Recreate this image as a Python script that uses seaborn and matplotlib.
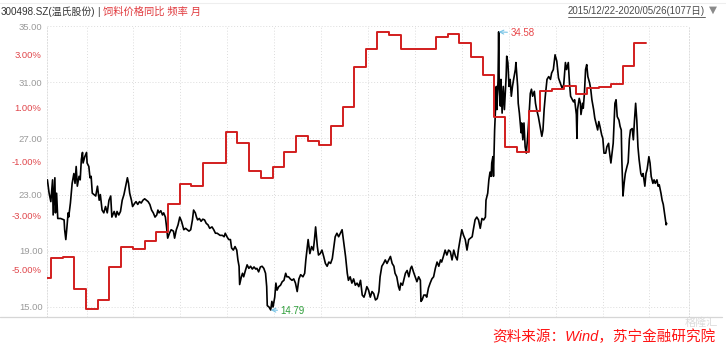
import numpy as np
import pandas as pd
import matplotlib
matplotlib.use("Agg")
import matplotlib.pyplot as plt
import seaborn as sns
from matplotlib.lines import Line2D

# ---------------- data ----------------
stock_name = "300498.SZ(温氏股份)"
series_name = "饲料价格同比 频率 月"
date_range_label = "2015/12/22-2020/05/26(1077日)"
start_date = "2015-12-22"
end_date = "2020-05-26"
n_trading_days = 1077
source_label = "资料来源：Wind，苏宁金融研究院"

# stock close (right axis), x = trading-day number
price_day = [
    0, 3, 6, 9, 10, 13, 14, 16, 18, 23, 29, 30, 32, 34, 36, 37, 40, 43, 46, 48,
    50, 52, 55, 57, 59, 61, 62, 65, 68, 69, 72, 74, 76, 78, 81, 84, 87, 90, 92, 95,
    98, 101, 104, 107, 110, 112, 116, 119, 121, 124, 127, 130, 133, 136, 139, 141, 143, 146, 148, 152,
    154, 157, 160, 163, 166, 169, 172, 175, 178, 181, 184, 187, 190, 192, 194, 197, 200, 202, 205, 207,
    209, 212, 215, 219, 221,
    224, 227, 230, 233, 237, 240, 243, 246, 249, 252, 254, 257, 259, 261, 264, 267, 270, 273, 276, 279,
    282, 286, 289, 292, 295, 300, 304, 307, 309, 312, 315, 318, 320, 323, 326, 329, 331, 333, 334, 337,
    339, 341, 344, 347, 350, 353, 356, 359, 362, 364, 367, 370, 373, 376, 379, 381, 382, 385, 388, 390,
    392, 395, 397, 399, 402, 405, 408, 411, 414, 416, 419, 422, 425, 428, 431, 434, 437, 440,
    444, 447, 449, 451, 453, 456, 459, 462, 464, 466, 469, 471, 474, 477, 480, 483, 486, 489, 492, 495,
    497, 500, 503, 506, 509, 512, 515, 518, 521, 523, 526, 529, 532, 535, 538, 541, 544, 547, 550, 552,
    555, 558, 561, 564, 567, 570, 573, 576, 578, 581, 584, 587, 590, 593, 596, 599, 602, 604, 607, 610,
    612, 614, 617, 619, 622, 625, 628, 631, 633, 636, 639, 642, 645, 648, 649, 651, 654, 657, 659, 662,
    665, 668,
    671, 674, 677, 680, 683, 685, 688, 691, 694, 697, 700, 703, 706, 709, 712, 714, 717, 720, 723, 726,
    729, 732, 735, 738, 740, 743, 746, 749, 752, 755, 758, 761, 762, 765, 767, 769, 771, 772, 774, 775,
    777, 778, 780, 781, 783, 784, 785, 787, 788, 790, 792, 794, 797, 798, 800, 802, 804, 806, 808, 810,
    813, 814, 817, 818, 820, 823, 824, 826, 828, 830, 832, 834, 836, 839, 841, 843, 846, 848, 850, 853,
    856, 859, 861, 863, 865, 868, 871, 874, 876, 879, 882, 885, 888, 891, 894, 897,
    900, 902, 905, 907, 909, 912, 914, 916, 919, 920, 921, 924, 926, 927, 930, 931, 933, 935, 937, 939,
    942, 944, 946, 949, 951, 953, 956, 958, 960, 963, 965, 967, 970, 972, 975, 976, 979, 981, 983, 986,
    988, 990, 993, 995, 997, 998, 1000, 1002, 1004, 1007, 1009, 1011, 1013, 1016, 1018, 1020, 1022, 1024, 1026, 1028,
    1031, 1033, 1035, 1038, 1040, 1042, 1045, 1047, 1049, 1052, 1054, 1056, 1059, 1061, 1063, 1066, 1068, 1070, 1072, 1075,
    1076,
]
price_close = [
    24.05, 23.1, 22.5, 24.05, 21.55, 24.2, 21.7, 23.1, 21.3, 21.3, 21.2, 20.5, 19.8, 20.7, 21.7, 21.4, 22.4, 23.8, 24.5, 23.8,
    25.0, 23.6, 24.3, 24.05, 25.5, 26.0, 25.25, 25.7, 26.0, 25.25, 25.0, 24.2, 24.3, 23.1, 23.0, 22.9, 23.6, 22.6, 23.0, 21.9,
    21.7, 22.15, 21.7, 22.6, 22.9, 21.4, 21.8, 21.4, 21.8, 21.55, 21.8, 22.6, 23.0, 23.6, 24.2, 23.8, 23.1, 22.6, 22.15, 22.4,
    22.5, 22.3, 22.5, 22.4, 22.6, 22.7, 22.6, 22.5, 22.3, 21.9, 21.7, 21.4, 21.55, 21.9, 21.7, 21.85, 21.55, 21.7, 21.4, 20.7,
    19.9, 20.25, 20.5, 20.4, 19.9,
    20.5, 20.85, 21.4, 21.1, 20.5, 20.6, 20.5, 20.4, 20.5, 21.2, 21.9, 21.7, 21.4, 21.2, 21.3, 21.1, 21.25, 21.2, 20.95, 20.85,
    20.6, 20.7, 20.5, 20.25, 20.25, 20.1, 20.1, 20.0, 20.25, 20.0, 19.8, 19.8, 19.2, 19.05, 19.3, 19.05, 18.35, 17.9, 16.6, 17.15,
    17.4, 17.15, 17.6, 18.0, 17.75, 17.9, 17.7, 17.85, 17.7, 17.75, 17.5, 17.85, 17.9, 17.75, 17.4, 16.45, 15.1, 15.0, 14.79, 15.4,
    15.0, 15.7, 16.7, 16.2, 16.45, 16.55, 16.8, 16.9, 17.4, 17.15, 17.15, 17.0, 16.9, 17.0, 16.7, 16.1, 17.0, 17.3,
    17.15, 17.4, 18.35, 19.05, 19.8, 18.8, 19.3, 19.05, 19.8, 20.7, 19.3, 18.7, 18.8, 19.05, 18.6, 18.1, 17.9, 18.2, 18.1, 18.45,
    19.05, 20.0, 20.25, 20.0, 20.25, 20.5, 19.55, 18.6, 17.4, 16.9, 17.15, 16.7, 17.0, 16.55, 16.7, 16.45, 16.9, 15.85, 15.7, 15.95,
    16.45, 16.2, 15.7, 16.1, 15.95, 15.5, 15.6, 16.1, 17.15, 17.9, 18.1, 18.35, 18.1, 18.35, 18.6, 18.1, 17.9, 17.4, 17.15, 16.45,
    16.2, 16.7, 16.55, 16.9, 17.4, 17.6, 17.15, 17.75, 17.9, 17.5, 17.15, 16.8, 17.15, 16.9, 15.4, 15.5, 15.85, 15.85, 15.7, 16.35,
    16.7, 17.0,
    17.15, 17.75, 18.2, 17.9, 18.35, 18.2, 18.6, 19.05, 18.7, 19.05, 18.95, 18.35, 19.05, 18.6, 18.35, 19.05, 19.8, 20.5, 20.1, 19.8,
    19.05, 19.8, 19.9, 20.0, 20.5, 21.2, 21.4, 21.2, 20.6, 21.3, 21.2, 21.4, 22.6, 23.1, 24.05, 24.6, 24.3, 25.25, 25.7, 24.3,
    27.6, 28.55, 30.7, 29.05, 31.2, 34.58, 30.7, 29.3, 31.2, 28.8, 30.7, 29.05, 31.4, 32.85, 32.4, 30.7, 31.2, 30.0, 30.7, 31.2,
    31.9, 32.4, 30.7, 29.5, 28.8, 27.4, 28.1, 26.9, 28.1, 26.4, 25.95, 26.9, 28.1, 30.2, 30.5, 30.0, 30.35, 29.5, 29.05, 28.55,
    27.85, 27.15, 27.6, 29.05, 30.0, 31.2, 31.4, 31.2, 31.65, 31.9, 32.95, 32.5, 31.3, 30.95, 30.6, 30.8,
    32.4, 31.9, 32.4, 30.95, 30.0, 29.75, 29.6, 29.75, 28.7, 27.0, 29.05, 29.85, 29.5, 28.7, 29.5, 29.15, 30.2, 31.9, 32.25, 31.4,
    30.95, 30.5, 29.75, 29.05, 28.45, 28.1, 27.6, 28.2, 27.85, 27.25, 27.0, 25.95, 25.95, 26.4, 26.65, 26.2, 25.25, 25.95, 26.65, 29.5,
    29.75, 28.55, 28.3, 27.85, 27.6, 25.5, 22.9, 23.8, 24.5, 25.0, 25.3, 26.9, 27.6, 27.7, 26.9, 28.3, 29.5, 28.3, 26.4, 25.5,
    24.5, 24.3, 24.5, 23.6, 24.5, 24.8, 25.7, 25.25, 24.3, 23.8, 24.05, 23.8, 24.05, 23.6, 23.7, 23.1, 22.6, 22.3, 21.7, 20.85,
    20.95,
]

# feed price YoY (left axis, %), monthly
feed_months = pd.period_range("2015-12", "2020-03", freq="M").strftime("%Y-%m").tolist()
feed_yoy = [
    -5.33,
    -4.59, -4.55, -5.74, -6.49, -6.15, -4.93, -4.18, -4.26, -3.96, -3.62, -2.58, -1.84,
    -1.91, -1.06, -1.06, 0.10, -0.31, -1.35, -1.61, -1.20, -0.65, -0.05, -0.24, -0.39,
    0.32, 1.03, 2.52, 3.19, 3.82, 3.71, 3.19, 3.19, 3.20, 3.63, 3.74, 3.41,
    2.89, 2.22, 0.66, -0.46, -0.65, 0.88, 1.62, 1.70, 1.81, 1.51, 1.73, 1.77,
    1.88, 2.55, 3.41,
]

price_ticks = [15, 19, 23, 27, 31, 35]
yoy_ticks = [-5, -3, -1, 1, 3]
max_label, min_label = "34.58", "14.79"

# ---------------- layout ----------------
sns.set_theme(style="white")
plt.rcParams["font.family"] = ["Liberation Sans", "Noto Sans CJK SC", "DejaVu Sans"]

W, H = 726, 347
fig = plt.figure(figsize=(W / 100, H / 100), dpi=100)
fig.patch.set_facecolor("white")
L, R, T, B = 46.7, 689.0, 26.0, 317.0
ax = fig.add_axes([L / W, 1 - B / H, (R - L) / W, (B - T) / H])
ax.set_facecolor("white")

# map calendar month starts onto the trading-day axis
t0, t1 = pd.Timestamp(start_date), pd.Timestamp(end_date)
span = (t1 - t0).days
def day_of(ts):
    return max(0.0, (ts - t0).days / span * (n_trading_days - 1))
step_x = [day_of(pd.Timestamp(m + "-01")) for m in feed_months]
step_x.append(day_of(pd.Timestamp(feed_months[-1] + "-01") + pd.offsets.MonthBegin(1)))
step_y = feed_yoy + [feed_yoy[-1]]

stock_df = pd.DataFrame({"day": price_day, "close": price_close})
feed_df = pd.DataFrame({"day": step_x, "yoy": step_y})

# price (right axis scale on host axes)
sns.lineplot(data=stock_df, x="day", y="close", ax=ax, color="black", lw=1.2,
             sort=False, estimator=None, zorder=3)
ax.set_xlim(-1.2, 1114.7)
ax.set_ylim(15 - 10 / 14.05, 35.0)
ax.set_yticks(price_ticks)
ax.set_yticklabels([f"{v:.2f}" for v in price_ticks])
ax.yaxis.tick_right()
ax.tick_params(axis="y", length=0, pad=3, labelsize=6.8, labelcolor="#9a9a9a")
ax.set_xticks([68 + 81.5 * k for k in range(13)])
ax.tick_params(axis="x", length=0, labelbottom=False)
ax.grid(True, axis="both", color="#dcdcdc", linestyle=(0, (1, 2)), lw=0.7)
ax.set_xlabel("")
ax.set_ylabel("")
for s in ["top", "bottom"]:
    ax.spines[s].set_visible(False)
for s in ["left", "right"]:
    ax.spines[s].set_color("#dcdcdc")
    ax.spines[s].set_linestyle((0, (1, 2)))
    ax.spines[s].set_linewidth(0.7)

# feed yoy on twin axes, ticks on the left
ax2 = ax.twinx()
sns.lineplot(data=feed_df, x="day", y="yoy", ax=ax2, color="#d21e1e", lw=1.4,
             drawstyle="steps-post", sort=False, estimator=None, zorder=4)
pct_per_px = 2.0 / 53.75
ax2.set_ylim(3 - (B - 54) * pct_per_px, 3 + (54 - T) * pct_per_px)
ax2.set_yticks(yoy_ticks)
ax2.set_yticklabels([f"{v:.2f}%" for v in yoy_ticks])
ax2.yaxis.tick_left()
ax2.tick_params(axis="y", length=0, pad=4, labelsize=6.8, labelcolor="#e0474c")
ax2.set_ylabel("")
ax2.grid(False)
for s in ax2.spines.values():
    s.set_visible(False)

# max / min annotations
imax = int(np.argmax(price_close))
imin = int(np.argmin(price_close))
ax.annotate(max_label, xy=(price_day[imax], price_close[imax]), xytext=(12, -1),
            textcoords="offset pixels", ha="left", va="center", fontsize=7,
            color="#e8474a",
            arrowprops=dict(arrowstyle="->", color="#79c4e6", lw=0.8,
                            shrinkA=0, shrinkB=0))
ax.annotate(min_label, xy=(price_day[imin], price_close[imin]), xytext=(10, -1),
            textcoords="offset pixels", ha="left", va="center", fontsize=7,
            color="#2e9e3a",
            arrowprops=dict(arrowstyle="->", color="#79c4e6", lw=0.8,
                            shrinkA=0, shrinkB=0))

# header texts
def fx(x): return x / W
def fy(y): return 1 - y / H
fig.text(fx(1), fy(12), stock_name, ha="left", va="center", fontsize=7.1, color="#333333")
fig.text(fx(98), fy(12), "|", ha="center", va="center", fontsize=7.1, color="#333333")
fig.text(fx(103), fy(12), series_name, ha="left", va="center", fontsize=7.4, color="#e0383c")
dt = fig.text(fx(705), fy(11), date_range_label, ha="right", va="center",
              fontsize=6.9, color="#4a4a4a")
fig.text(fx(713), fy(10), "▼", ha="center", va="center", fontsize=7.5,
         color="#8a8a8a", family=["DejaVu Sans"])

# frame lines
fig.add_artist(Line2D([0, 1], [fy(3), fy(3)], color="#eeeeee", lw=0.8))
fig.add_artist(Line2D([0, 722 / W], [fy(317), fy(317)], color="#d6d6d6", lw=0.9))

# watermark and source
fig.text(fx(718), fy(323), "格隆汇", ha="right", va="center", fontsize=8,
         color="#dcdcdc", zorder=0)
fig.text(fx(716), fy(337), source_label, ha="right", va="center", fontsize=10.5,
         color="#ff1414", style="italic")

# underline for date range
fig.canvas.draw()
bb = dt.get_window_extent()
fig.add_artist(Line2D([bb.x0 / W, bb.x1 / W], [(bb.y0 - 0.5) / H, (bb.y0 - 0.5) / H],
                      color="#4a4a4a", lw=0.6))

fig.savefig("out.png", dpi=100, facecolor="white")
